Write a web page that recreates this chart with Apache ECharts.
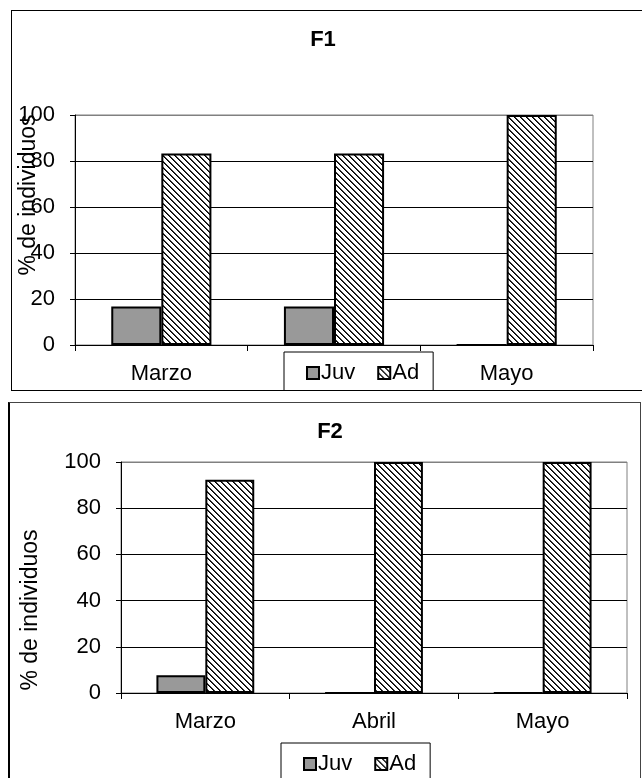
<!DOCTYPE html>
<html>
<head>
<meta charset="utf-8">
<script src="https://cdn.jsdelivr.net/npm/echarts@6/dist/echarts.min.js"></script>
<style>
  html, body { margin: 0; padding: 0; background: #fff; overflow: hidden; width: 642px; height: 778px; }
  .box { position: absolute; border: 1px solid #000; overflow: hidden; }
  #box1 { left: 11px; top: 10px; width: 640px; height: 379px; }
  #box2 { left: 8px; top: 402px; width: 630px; height: 400px; border-width: 1px 1px 1px 2px; border-color: #444 #444 #000 #000; }
  .chart { width: 100%; height: 100%; }
</style>
</head>
<body>
<div id="box1" class="box"><div id="f1" class="chart"></div></div>
<div id="box2" class="box"><div id="f2" class="chart"></div></div>
<script>
  // data
  const months = ['Marzo', 'Abril', 'Mayo']
  const f1Juv = [16.7, 16.7, 0]
  const f1Ad = [83.3, 83.3, 100]
  const f2Juv = [7.7, 0, 0]
  const f2Ad = [92.3, 100, 100]
  const seriesNames = ['Juv', 'Ad']
  const yMin = 0
  const yMax = 100
  const yStep = 20

  const FONT = 'Liberation Sans, Arial, sans-serif'

  // diagonal hatch like the excel "wide downward diagonal" fill
  function hatch () {
    const n = 6
    const c = document.createElement('canvas')
    c.width = n
    c.height = n
    const ctx = c.getContext('2d')
    const img = ctx.createImageData(n, n)
    for (let y = 0; y < n; y++) {
      for (let x = 0; x < n; x++) {
        const k = ((x - y) % n + n) % n
        const v = k === 0 ? 0 : (k === 1 ? 60 : 255)
        const i = (y * n + x) * 4
        img.data[i] = v
        img.data[i + 1] = v
        img.data[i + 2] = v
        img.data[i + 3] = 255
      }
    }
    ctx.putImageData(img, 0, 0)
    return c
  }
  const hatchFill = { image: hatch(), repeat: 'repeat' }

  function build (el, cfg) {
    const options = {
      animation: false,
      textStyle: { fontFamily: FONT, color: '#000' },
      title: {
        text: cfg.title,
        left: cfg.titleX,
        top: cfg.titleY,
        textAlign: 'center',
        padding: 0,
        textStyle: { fontFamily: FONT, fontSize: 22, fontWeight: 'bold', color: '#000' }
      },
      legend: {
        data: seriesNames,
        left: cfg.legend.left,
        top: cfg.legend.top,
        orient: 'horizontal',
        icon: 'rect',
        itemWidth: 12,
        itemHeight: 12,
        itemGap: 22,
        padding: [10, 14, 40, 22],
        backgroundColor: '#fff',
        borderColor: '#000',
        borderWidth: 1,
        z: 10,
        textStyle: { fontFamily: FONT, fontSize: 22, color: '#000', padding: [0, 0, 0, -3] }
      },
      grid: {
        show: true,
        left: cfg.grid.left,
        top: cfg.grid.top,
        width: cfg.grid.width,
        height: cfg.grid.height,
        borderColor: '#808080',
        borderWidth: 1,
        containLabel: false
      },
      xAxis: {
        type: 'category',
        data: months,
        boundaryGap: true,
        axisLine: { lineStyle: { color: '#000', width: 1 } },
        axisTick: { show: true, length: 6, lineStyle: { color: '#000' } },
        axisLabel: { margin: 18, fontFamily: FONT, fontSize: 22, color: '#000' },
        splitLine: { show: false }
      },
      yAxis: {
        type: 'value',
        min: yMin,
        max: yMax,
        interval: yStep,
        axisLine: { show: true, lineStyle: { color: '#000', width: 1 } },
        axisTick: { show: true, length: 5, lineStyle: { color: '#000' } },
        axisLabel: { margin: 20, fontFamily: FONT, fontSize: 22, color: '#000' },
        splitLine: {
          show: true,
          lineStyle: { color: ['#000', '#000', '#000', '#000', '#000', '#808080'], width: 1 }
        }
      },
      graphic: [{
        type: 'text',
        x: cfg.yName.x,
        y: cfg.yName.y,
        rotation: Math.PI / 2,
        z: 5,
        style: {
          text: '% de individuos',
          font: '23px ' + FONT,
          fill: '#000',
          align: 'center',
          verticalAlign: 'middle'
        }
      }],
      series: [
        {
          name: 'Juv',
          type: 'bar',
          data: cfg.juv,
          barGap: '0%',
          barCategoryGap: '42%',
          itemStyle: { color: '#999999', borderColor: '#000', borderWidth: 2 }
        },
        {
          name: 'Ad',
          type: 'bar',
          data: cfg.ad,
          barGap: '0%',
          barCategoryGap: '42%',
          itemStyle: { color: hatchFill, borderColor: '#000', borderWidth: 2 }
        }
      ]
    }
    const chart = echarts.init(document.getElementById(el), null, { renderer: 'canvas' })
    chart.setOption(options, true)
    return chart
  }

  build('f1', {
    title: 'F1',
    titleX: 311,
    titleY: 18,
    juv: f1Juv,
    ad: f1Ad,
    grid: { left: 63, top: 104, width: 518, height: 230 },
    legend: { left: 272, top: 341 },
    yName: { x: 17, y: 184 }
  })

  build('f2', {
    title: 'F2',
    titleX: 320,
    titleY: 18,
    juv: f2Juv,
    ad: f2Ad,
    grid: { left: 111, top: 59, width: 506, height: 231 },
    legend: { left: 271, top: 340 },
    yName: { x: 21, y: 207 }
  })
</script>
</body>
</html>
